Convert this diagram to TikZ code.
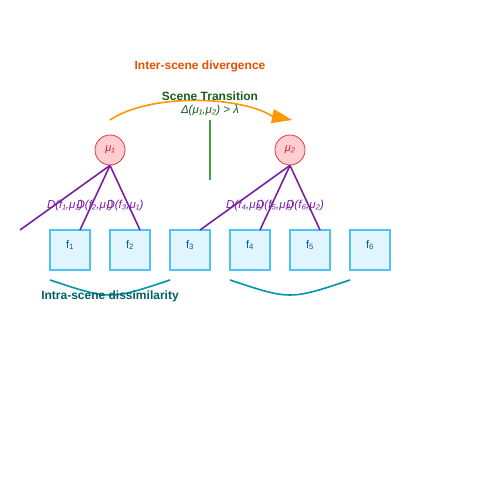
\documentclass[tikz,border=0pt]{standalone}
\usepackage{fontspec}
\setmainfont{Liberation Sans}
\usetikzlibrary{arrows.meta}
\definecolor{boxfill}{HTML}{E1F5FE}
\definecolor{boxdraw}{HTML}{4FC3F7}
\definecolor{boxtext}{HTML}{01579B}
\definecolor{cfill}{HTML}{FFCDD2}
\definecolor{cdraw}{HTML}{E53935}
\definecolor{ctext}{HTML}{C62828}
\definecolor{purp}{HTML}{7B1FA2}
\definecolor{orng}{HTML}{FF9800}
\definecolor{orngtext}{HTML}{E65100}
\definecolor{grntext}{HTML}{1B5E20}
\definecolor{grnline}{HTML}{43A047}
\definecolor{tealline}{HTML}{0097A7}
\definecolor{tealtext}{HTML}{006064}
\tikzset{
  framebox/.style={draw=boxdraw, line width=1.2pt, fill=boxfill, minimum width=40pt, minimum height=40pt, inner sep=0pt},
  frametext/.style={text=boxtext, font=\fontsize{11}{13}\selectfont, inner sep=0pt},
  centroid/.style={circle, draw=cdraw, fill=cfill, minimum size=30pt, inner sep=0pt, line width=0.8pt, text=ctext, font=\fontsize{11}{13}\selectfont\itshape},
  distline/.style={draw=purp, line width=1.6pt},
  distlabel/.style={text=purp, font=\fontsize{11.5}{13}\selectfont\itshape, inner sep=0pt},
  intra/.style={draw=tealline, line width=1.6pt},
}
\begin{document}
\begin{tikzpicture}[x=1pt,y=-1pt]
\useasboundingbox (0,0) rectangle (500,500);
\fill[white] (0,0) rectangle (500,500);
% title
\node[text=orngtext, font=\fontsize{12}{14}\selectfont\bfseries] (t1) at (200,66) {Inter-scene divergence};
% orange arc
\coordinate (a1) at (110,120);
\coordinate (a2) at (292,120);
\draw[draw=orng, line width=1.6pt, -{Triangle[length=20pt,width=14pt]}] (a1) .. controls (150,93) and (240,96) .. (272,116) -- (a2);
% green
\coordinate (g1) at (210,120);
\coordinate (g2) at (210,180);
\draw[draw=grnline, line width=1.4pt] (g1) -- (g2);
\node[text=grntext, font=\fontsize{12}{14}\selectfont\bfseries] (t2) at (210,96) {Scene Transition};
\node[text=grntext, font=\fontsize{11.5}{13}\selectfont\itshape] (t3) at (210,111) {Δ(μ₁,μ₂) > λ};
% boxes
\foreach \i/\x in {1/70,2/130,3/190,4/250,5/310,6/370}{
  \node[framebox] (b\i) at (\x,250) {};
  \node[frametext] (bt\i) at (\x,245) {f\textsubscript{\i}};
}
% centroids
\node[centroid] (c1) at (110,150) {μ₁};
\node[centroid] (c2) at (290,150) {μ₂};
% distance lines
\coordinate (e1) at (20,230);
\coordinate (e2) at (80,230);
\coordinate (e3) at (140,230);
\coordinate (e4) at (200,230);
\coordinate (e5) at (260,230);
\coordinate (e6) at (320,230);
\draw[distline] (c1.south) -- (e1);
\draw[distline] (c1.south) -- (e2);
\draw[distline] (c1.south) -- (e3);
\draw[distline] (c2.south) -- (e4);
\draw[distline] (c2.south) -- (e5);
\draw[distline] (c2.south) -- (e6);
\node[distlabel] (d1) at (65,206) {D(f₁,μ₁)};
\node[distlabel] (d2) at (95,206) {D(f₂,μ₁)};
\node[distlabel] (d3) at (125,206) {D(f₃,μ₁)};
\node[distlabel] (d4) at (245,206) {D(f₄,μ₂)};
\node[distlabel] (d5) at (275,206) {D(f₅,μ₂)};
\node[distlabel] (d6) at (305,206) {D(f₆,μ₂)};
% intra arcs
\coordinate (i1) at (50,280);
\coordinate (i2) at (170,280);
\coordinate (i3) at (230,280);
\coordinate (i4) at (350,280);
\draw[intra] (i1) .. controls (110,300) .. (i2);
\draw[intra] (i3) .. controls (290,300) .. (i4);
\node[text=tealtext, font=\fontsize{12}{14}\selectfont\bfseries] (t4) at (110,296) {Intra-scene dissimilarity};
\end{tikzpicture}
\end{document}
